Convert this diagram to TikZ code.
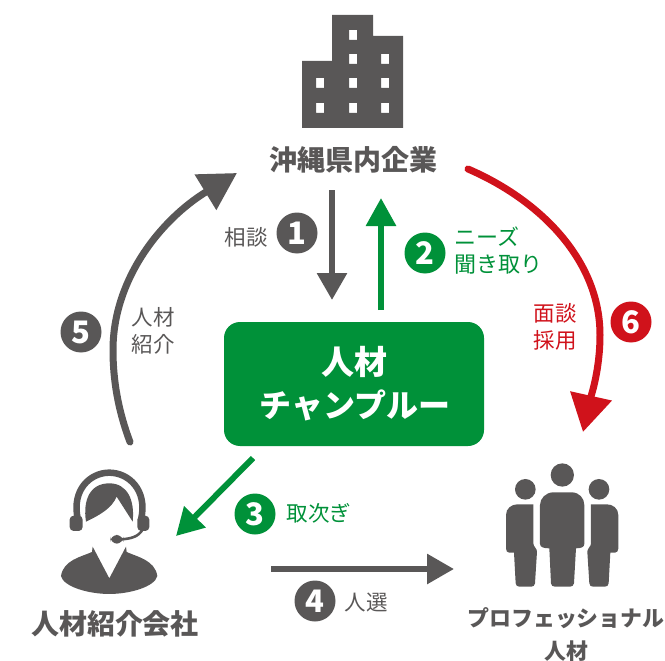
\documentclass[tikz,border=0pt]{standalone}
\usepackage{fontspec}
\setmainfont{Noto Sans CJK JP}[BoldFont={Noto Sans CJK JP Black}]
\newfontfamily\digitfont{Noto Sans CJK JP Black}
\usetikzlibrary{arrows.meta}
\definecolor{dk}{HTML}{595757}
\definecolor{gn}{HTML}{009139}
\definecolor{rd}{HTML}{D0121B}
\tikzset{
  badge/.style={circle,minimum size=41pt,inner sep=0pt,text=white,font=\fontsize{31}{31}\selectfont\digitfont},
  lbl/.style={inner sep=0pt,align=center,font=\fontsize{21.5}{26.5}\selectfont},
  title/.style={inner sep=0pt,align=center,text=dk,font=\fontsize{28}{30}\selectfont\bfseries},
  conn/.style={line width=6pt},
  curved/.style={line width=7pt,line cap=round},
}
\begin{document}
\begin{tikzpicture}[x=1pt,y=-1pt]
\useasboundingbox (0,0) rectangle (665,661);
% building
\fill[dk,even odd rule] (302,61)--(332,61)--(332,15)--(373,15)--(373,36)--(403,36)--(403,128)--(302,128)--cycle
 (349,30) rectangle +(8,10)
 (349,54) rectangle +(8,10) (381,54) rectangle +(8,10)
 (316,78) rectangle +(8,10) (349,78) rectangle +(8,10) (381,78) rectangle +(8,10)
 (316,103) rectangle +(8,10) (349,103) rectangle +(8,10) (381,103) rectangle +(8,10);
\node[title] (kigyo) at (353,160) {沖縄県内企業};
% central box
\node[fill=gn,rounded corners=16pt,minimum width=260pt,minimum height=124pt,inner sep=0pt] (hub) at (354,384) {};
\node[inner sep=0pt,text=white,font=\fontsize{33}{33}\selectfont\bfseries] (hub1) at (354,362) {人材};
\node[inner sep=0pt,text=white,font=\fontsize{32}{32}\selectfont\bfseries] (hub2) at (355,405) {チャンプルー};
% operator
\begin{scope}[shift={(40,450)},x=0.3333pt,y=-0.3333pt]
\fill[dk] (158,290)--(208,385)--(258,290)--(260,306) .. controls (290,320) and (345,330) .. (352,378) .. controls (345,410) and (270,432) .. (208,432) .. controls (145,432) and (70,410) .. (63,378) .. controls (70,330) and (125,320) .. (156,306)--cycle;
\fill[dk] (138,215) .. controls (128,150) and (150,100) .. (208,100) .. controls (262,100) and (285,150) .. (278,215) -- (230,140) .. controls (215,175) and (180,195) .. (138,215) -- cycle;
\draw[dk,line width=6.5pt] (113,205) .. controls (95,120) and (150,68) .. (208,68) .. controls (266,68) and (322,120) .. (304,205);
\fill[dk,rounded corners=4pt] (89,197) rectangle (128,243);
\fill[dk,rounded corners=4pt] (292,197) rectangle (328,243);
\draw[dk,line width=2.6pt] (308,238) .. controls (295,262) and (270,266) .. (245,268);
\fill[dk,rounded corners=7pt] (211,255) rectangle (250,281);
\end{scope}
\node[title] (agent) at (115,624) {人材紹介会社};
% people
\begin{scope}[shift={(490,450)},x=0.3333pt,y=-0.3333pt]
\fill[dk] (217,75) circle[radius=35];
\fill[dk] (106,118) circle[radius=31];
\fill[dk] (327,118) circle[radius=31];
\fill[dk] (190,127)--(245,127) .. controls (268,127) and (283,145) .. (283,165) -- (283,282) .. controls (283,292) and (272,295) .. (258,295) -- (252,400) .. controls (251,407) and (246,410) .. (240,410) -- (195,410) .. controls (188,410) and (184,407) .. (183,400) -- (178,295) .. controls (162,295) and (150,292) .. (150,282) -- (150,165) .. controls (150,145) and (168,127) .. (190,127) -- cycle;
\fill[dk] (130,163) -- (130,280) .. controls (130,290) and (141,295) .. (141,305) -- (135,400) .. controls (134,407) and (130,410) .. (124,410) -- (88,410) .. controls (82,410) and (78,407) .. (77,400) -- (72,308) -- (58,308) .. controls (52,308) and (48,303) .. (48,296) -- (48,195) .. controls (48,175) and (65,163) .. (82,163) -- cycle;
\fill[dk] (303,163) -- (303,280) .. controls (303,290) and (292,295) .. (292,305) -- (298,400) .. controls (299,407) and (303,410) .. (309,410) -- (345,410) .. controls (351,410) and (355,407) .. (356,400) -- (361,308) -- (375,308) .. controls (381,308) and (385,303) .. (385,296) -- (385,195) .. controls (385,175) and (368,163) .. (351,163) -- cycle;
\end{scope}
\node[title,font=\fontsize{21.9}{33}\selectfont\bfseries] (pro) at (566,634.5) {プロフェッショナル\\人材};
% connector end points
\coordinate (a1s) at (332,190); \coordinate (a1e) at (332,300);
\coordinate (a2s) at (381,310); \coordinate (a2e) at (381,198);
\coordinate (a3s) at (253,458); \coordinate (a3e) at (176,536);
\coordinate (a4s) at (271,569); \coordinate (a4e) at (454,569);
\coordinate (a5s) at (130,442); \coordinate (a5m) at (113,350); \coordinate (a5e) at (237,173);
\coordinate (a6s) at (468,169); \coordinate (a6m) at (600,335); \coordinate (a6e) at (583,432);
% connectors
\draw[conn,dk,-{Triangle[width=29pt,length=27pt]}] (a1s)--(a1e);
\draw[conn,gn,-{Triangle[width=29pt,length=28pt]}] (a2s)--(a2e);
\draw[conn,gn,-{Triangle[width=29pt,length=27pt]}] (a3s)--(a3e);
\draw[conn,dk,-{Triangle[width=29pt,length=27pt]}] (a4s)--(a4e);
\draw[curved,dk,-{Triangle[width=40pt,length=37pt]}] (a5s) .. controls (118,410) and (113,380) .. (a5m) .. controls (113,280) and (160,220) .. (a5e);
\draw[curved,rd,-{Triangle[width=41pt,length=37pt]}] (a6s) .. controls (540,200) and (600,260) .. (a6m) .. controls (600,370) and (591,396) .. (a6e);
% badges
\node[badge,fill=dk] (b1) at (297,233) {1};
\node[badge,fill=gn] (b2) at (425,253) {2};
\node[badge,fill=gn] (b3) at (255,514) {3};
\node[badge,fill=dk] (b4) at (315,601) {4};
\node[badge,fill=dk] (b5) at (81,332) {5};
\node[badge,fill=rd] (b6) at (631,322) {6};
% labels
\node[lbl,text=dk] (l1) at (246,237) {相談};
\node[lbl,text=gn,align=left,anchor=west,font=\fontsize{22}{26.5}\selectfont] (l2) at (454,250.5) {ニーズ\\聞き取り};
\node[lbl,text=gn] (l3) at (319,513) {取次ぎ};
\node[lbl,text=dk] (l4) at (366,602) {人選};
\node[lbl,text=dk] (l5) at (153,331) {人材\\紹介};
\node[lbl,text=rd] (l6) at (555,327) {面談\\採用};
\end{tikzpicture}
\end{document}
